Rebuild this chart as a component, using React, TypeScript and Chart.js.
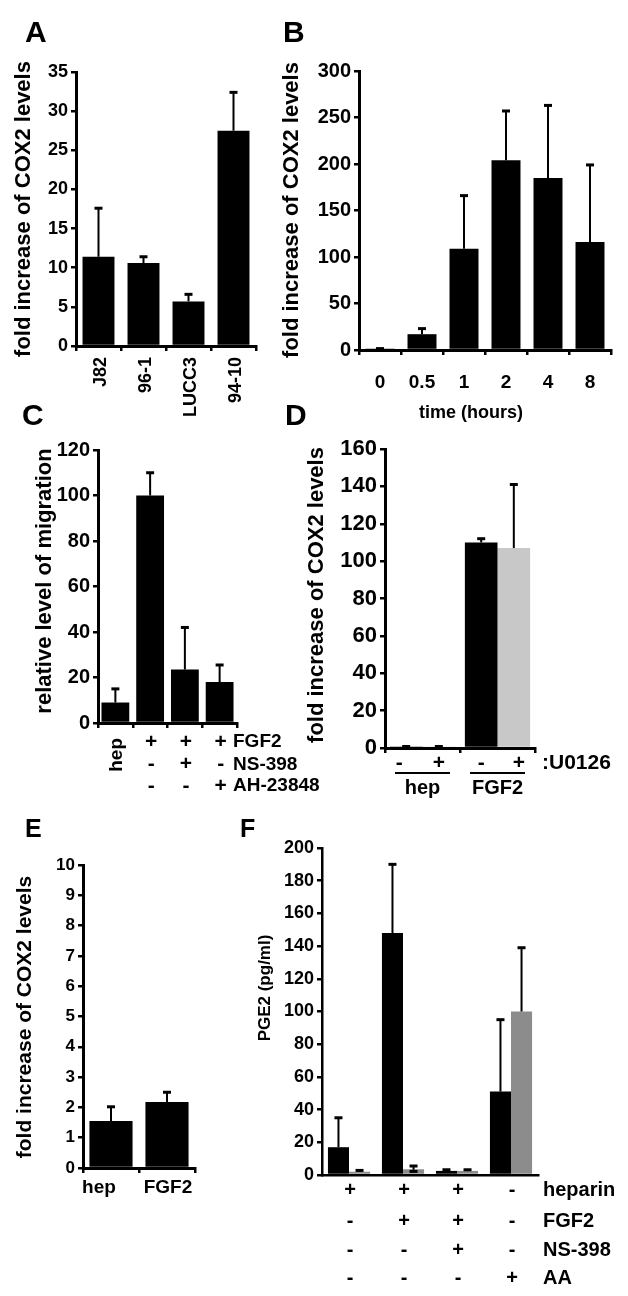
import React, { useEffect, useRef } from "react";
import { Chart, registerables } from "chart.js";
Chart.register(...registerables);

// ---------- DATA ----------
// Panel A
const aCategories = ["J82", "96-1", "LUCC3", "94-10"];
const aValues = [11.4, 10.6, 5.7, 27.5];
const aErrTop = [17.6, 11.4, 6.6, 32.4];
// Panel B
const bCategories = ["0", "0.5", "1", "2", "4", "8"];
const bValues = [1, 17, 109, 204, 185, 116];
const bErrTop = [1.5, 23, 166, 257, 263, 199];
// Panel C
const cCategories = ["hep", "FGF2", "FGF2+NS-398", "FGF2+AH-23848"];
const cValues = [9, 100, 23.5, 18];
const cErrTop = [15, 110, 42, 25.5];
const cRowNames = ["FGF2", "NS-398", "AH-23848"];
const cRowMarks = [
  ["+", "+", "+"],
  ["-", "+", "-"],
  ["-", "-", "+"],
];
// Panel D
const dGroups = ["hep", "FGF2"];
const dNoU0126 = [0.5, 110];
const dNoU0126Err = [0.8, 112];
const dU0126 = [0.5, 107];
const dU0126Err = [0.8, 141];
// Panel E
const eCategories = ["hep", "FGF2"];
const eValues = [1.55, 2.18];
const eErrTop = [2.02, 2.5];
// Panel F
const fGroups = ["1", "2", "3", "4"];
const fBlack = [17, 148, 2.5, 51];
const fBlackErr = [35, 190, 3.2, 95];
const fGray = [2, 3.5, 2.5, 100];
const fGrayErr = [2.8, 5.5, 3.2, 139];
const fGrayErrLow = [null, 2.2, null, null];
const fRowNames = ["heparin", "FGF2", "NS-398", "AA"];
const fRowMarks = [
  ["+", "+", "+", "-"],
  ["-", "+", "+", "-"],
  ["-", "-", "+", "-"],
  ["-", "-", "-", "+"],
];

// ---------- TYPES ----------
type TextItem = {
  t: string;
  size: number;
  y: number;
  x?: number;
  cat?: number;
  bar?: [number, number];
  dx?: number;
  align?: CanvasTextAlign;
  rot?: boolean;
};
type LineItem = { cat: number; half: number; y: number };
type DS = { data: number[]; color: string; hi: number[]; lo?: (number | null)[] };
type Panel = {
  key: string;
  box: { left: number; top: number; width: number; height: number };
  area: { left: number; top: number; right: number; bottom: number };
  labels: string[];
  datasets: DS[];
  yMax: number;
  yStep: number;
  tickSize: number;
  catPct: number;
  barPct: number;
  axisW: number;
  xTicks: boolean;
  texts: TextItem[];
  lines?: LineItem[];
};

const FONT = '"Liberation Sans", Arial, Helvetica, sans-serif';

// ---------- PANELS ----------
const panels: Panel[] = [
  {
    key: "A",
    box: { left: 0, top: 0, width: 275, height: 420 },
    area: { left: 76, top: 72, right: 256, bottom: 346 },
    labels: aCategories,
    datasets: [{ data: aValues, color: "#000", hi: aErrTop }],
    yMax: 35, yStep: 5, tickSize: 18, catPct: 1, barPct: 0.71, axisW: 3, xTicks: true,
    texts: [
      { t: "A", size: 30, x: 25, y: 34, align: "left" },
      { t: "fold increase of COX2 levels", size: 22, x: 24, y: 209, rot: true, align: "center" },
      ...aCategories.map((c, i) => ({ t: c, size: 18, cat: i, dx: 3, y: 357, rot: true, align: "right" as CanvasTextAlign })),
    ],
  },
  {
    key: "B",
    box: { left: 280, top: 0, width: 348, height: 430 },
    area: { left: 359, top: 71, right: 611, bottom: 350 },
    labels: bCategories,
    datasets: [{ data: bValues, color: "#000", hi: bErrTop }],
    yMax: 300, yStep: 50, tickSize: 20, catPct: 1, barPct: 0.69, axisW: 3, xTicks: true,
    texts: [
      { t: "B", size: 30, x: 283, y: 34, align: "left" },
      { t: "fold increase of COX2 levels", size: 22, x: 292, y: 210, rot: true, align: "center" },
      ...bCategories.map((c, i) => ({ t: c, size: 19, cat: i, y: 383, align: "center" as CanvasTextAlign })),
      { t: "time (hours)", size: 18, x: 471, y: 413, align: "center" },
    ],
  },
  {
    key: "C",
    box: { left: 0, top: 395, width: 340, height: 405 },
    area: { left: 98, top: 450, right: 237, bottom: 723 },
    labels: cCategories,
    datasets: [{ data: cValues, color: "#000", hi: cErrTop }],
    yMax: 120, yStep: 20, tickSize: 20, catPct: 1, barPct: 0.8, axisW: 3, xTicks: true,
    texts: [
      { t: "C", size: 30, x: 22, y: 417, align: "left" },
      { t: "relative level of migration", size: 22, x: 45, y: 581, rot: true, align: "center" },
      { t: "hep", size: 19, cat: 0, dx: 1, y: 738, rot: true, align: "right" },
      ...cRowMarks.flatMap((row, r) =>
        row.map((m, k) => ({ t: m, size: 21, cat: k + 1, dx: 1, y: [742, 764, 786][r], align: "center" as CanvasTextAlign }))
      ),
      ...cRowNames.map((n, r) => ({ t: n, size: 19, x: 233, y: [742, 765, 786][r], align: "left" as CanvasTextAlign })),
    ],
  },
  {
    key: "D",
    box: { left: 280, top: 395, width: 348, height: 405 },
    area: { left: 385, top: 449, right: 535, bottom: 748 },
    labels: dGroups,
    datasets: [
      { data: dNoU0126, color: "#000", hi: dNoU0126Err },
      { data: dU0126, color: "#c8c8c8", hi: dU0126Err },
    ],
    yMax: 160, yStep: 20, tickSize: 22, catPct: 0.87, barPct: 1, axisW: 3, xTicks: true,
    texts: [
      { t: "D", size: 30, x: 285, y: 417, align: "left" },
      { t: "fold increase of COX2 levels", size: 22, x: 317, y: 595, rot: true, align: "center" },
      { t: "-", size: 21, bar: [0, 0], dx: -7, y: 763, align: "center" },
      { t: "+", size: 21, bar: [1, 0], y: 763, align: "center" },
      { t: "-", size: 21, bar: [0, 1], y: 763, align: "center" },
      { t: "+", size: 21, bar: [1, 1], dx: 5, y: 763, align: "center" },
      { t: ":U0126", size: 21, x: 542, y: 763, align: "left" },
      ...dGroups.map((g, i) => ({ t: g, size: 20, cat: i, y: 788, align: "center" as CanvasTextAlign })),
    ],
    lines: [
      { cat: 0, half: 27.5, y: 773 },
      { cat: 1, half: 27.5, y: 773 },
    ],
  },
  {
    key: "E",
    box: { left: 0, top: 810, width: 240, height: 400 },
    area: { left: 83, top: 865, right: 195, bottom: 1168 },
    labels: eCategories,
    datasets: [{ data: eValues, color: "#000", hi: eErrTop }],
    yMax: 10, yStep: 1, tickSize: 17, catPct: 1, barPct: 0.77, axisW: 3, xTicks: true,
    texts: [
      { t: "E", size: 25, x: 25, y: 830, align: "left" },
      { t: "fold increase of COX2 levels", size: 21, x: 25, y: 1017, rot: true, align: "center" },
      { t: eCategories[0], size: 19, cat: 0, dx: -12, y: 1188, align: "center" },
      { t: eCategories[1], size: 19, cat: 1, dx: 1, y: 1188, align: "center" },
    ],
  },
  {
    key: "F",
    box: { left: 235, top: 810, width: 393, height: 486 },
    area: { left: 322, top: 848, right: 538, bottom: 1175 },
    labels: fGroups,
    datasets: [
      { data: fBlack, color: "#000", hi: fBlackErr },
      { data: fGray, color: "#8c8c8c", hi: fGrayErr, lo: fGrayErrLow },
    ],
    yMax: 200, yStep: 20, tickSize: 18, catPct: 0.78, barPct: 1, axisW: 2.5, xTicks: false,
    texts: [
      { t: "F", size: 25, x: 240, y: 830, align: "left" },
      { t: "PGE2 (pg/ml)", size: 17, x: 265, y: 988, rot: true, align: "center" },
      ...fRowMarks.flatMap((row, r) =>
        row.map((m, k) => ({ t: m, size: 20, cat: k, dx: 1, y: [1190, 1221, 1250, 1278][r], align: "center" as CanvasTextAlign }))
      ),
      ...fRowNames.map((n, r) => ({ t: n, size: 20, x: 543, y: [1190, 1221, 1250, 1278][r], align: "left" as CanvasTextAlign })),
    ],
  },
];

// ---------- PLUGIN ----------
function extras(p: Panel) {
  return {
    id: "extras" + p.key,
    afterDatasetsDraw(chart: any) {
      const ctx = chart.ctx as CanvasRenderingContext2D;
      const ys = chart.scales.y;
      ctx.save();
      ctx.strokeStyle = "#000";
      p.datasets.forEach((ds, i) => {
        const meta = chart.getDatasetMeta(i);
        meta.data.forEach((el: any, j: number) => {
          const x = el.x;
          const yb = ys.getPixelForValue(ds.data[j]);
          const yt = ys.getPixelForValue(ds.hi[j]);
          ctx.lineWidth = 2;
          ctx.beginPath();
          ctx.moveTo(x, yb);
          ctx.lineTo(x, yt);
          ctx.stroke();
          ctx.lineWidth = 3;
          ctx.beginPath();
          ctx.moveTo(x - 4, yt);
          ctx.lineTo(x + 4, yt);
          ctx.stroke();
          const lo = ds.lo ? ds.lo[j] : null;
          if (lo != null) {
            const yl = ys.getPixelForValue(lo);
            ctx.lineWidth = 2;
            ctx.beginPath();
            ctx.moveTo(x, yb);
            ctx.lineTo(x, yl);
            ctx.stroke();
            ctx.lineWidth = 3;
            ctx.beginPath();
            ctx.moveTo(x - 4, yl);
            ctx.lineTo(x + 4, yl);
            ctx.stroke();
          }
        });
      });
      ctx.restore();
    },
    afterDraw(chart: any) {
      const ctx = chart.ctx as CanvasRenderingContext2D;
      const xs = chart.scales.x;
      ctx.save();
      ctx.fillStyle = "#000";
      ctx.strokeStyle = "#000";
      p.texts.forEach((it) => {
        let x = 0;
        if (it.cat !== undefined) x = xs.getPixelForValue(it.cat);
        else if (it.bar) x = chart.getDatasetMeta(it.bar[0]).data[it.bar[1]].x;
        else x = (it.x as number) - p.box.left;
        x += it.dx || 0;
        const y = it.y - p.box.top;
        ctx.font = `bold ${it.size}px ${FONT}`;
        ctx.textAlign = it.align || "center";
        ctx.textBaseline = "middle";
        if (it.rot) {
          ctx.save();
          ctx.translate(x, y);
          ctx.rotate(-Math.PI / 2);
          ctx.fillText(it.t, 0, 0);
          ctx.restore();
        } else {
          ctx.fillText(it.t, x, y);
        }
      });
      (p.lines || []).forEach((ln) => {
        const c = xs.getPixelForValue(ln.cat);
        const y = ln.y - p.box.top;
        ctx.lineWidth = 2;
        ctx.beginPath();
        ctx.moveTo(c - ln.half, y);
        ctx.lineTo(c + ln.half, y);
        ctx.stroke();
      });
      ctx.restore();
    },
  };
}

function PanelChart({ p }: { p: Panel }) {
  const ref = useRef<HTMLCanvasElement | null>(null);
  useEffect(() => {
    if (!ref.current) return;
    const { box, area } = p;
    const chart = new Chart(ref.current, {
      type: "bar",
      data: {
        labels: p.labels,
        datasets: p.datasets.map((ds) => ({
          data: ds.data,
          backgroundColor: ds.color,
          borderWidth: 0,
          categoryPercentage: p.catPct,
          barPercentage: p.barPct,
        })),
      },
      options: {
        responsive: false,
        animation: false,
        events: [],
        layout: {
          padding: {
            top: area.top - box.top,
            right: box.left + box.width - area.right,
            left: 0,
            bottom: 0,
          },
        },
        plugins: {
          legend: { display: false },
          tooltip: { enabled: false },
          title: { display: false },
        },
        scales: {
          x: {
            type: "category",
            offset: true,
            z: 1,
            grid: {
              offset: true,
              drawOnChartArea: false,
              drawTicks: p.xTicks,
              tickLength: 5,
              color: "#000",
              lineWidth: 2.5,
            },
            border: { display: true, color: "#000", width: p.axisW },
            ticks: { display: false },
            afterFit: (s: any) => {
              s.height = box.top + box.height - area.bottom;
            },
          },
          y: {
            min: 0,
            max: p.yMax,
            z: 1,
            ticks: {
              stepSize: p.yStep,
              color: "#000",
              padding: 3,
              font: { family: FONT, weight: "bold", size: p.tickSize },
            },
            grid: {
              drawOnChartArea: false,
              drawTicks: true,
              tickLength: 5,
              color: "#000",
              lineWidth: 2.5,
            },
            border: { display: true, color: "#000", width: p.axisW },
            afterFit: (s: any) => {
              s.width = area.left - box.left;
            },
          },
        },
      } as any,
      plugins: [extras(p)],
    });
    return () => chart.destroy();
  }, [p]);
  return (
    <canvas
      ref={ref}
      width={p.box.width}
      height={p.box.height}
      style={{ position: "absolute", left: p.box.left, top: p.box.top, width: p.box.width, height: p.box.height }}
    />
  );
}

export default function App() {
  return (
    <div style={{ position: "absolute", left: 0, top: 0, width: 628, height: 1296, background: "#fff", overflow: "hidden" }}>
      {panels.map((p) => (
        <PanelChart key={p.key} p={p} />
      ))}
    </div>
  );
}
